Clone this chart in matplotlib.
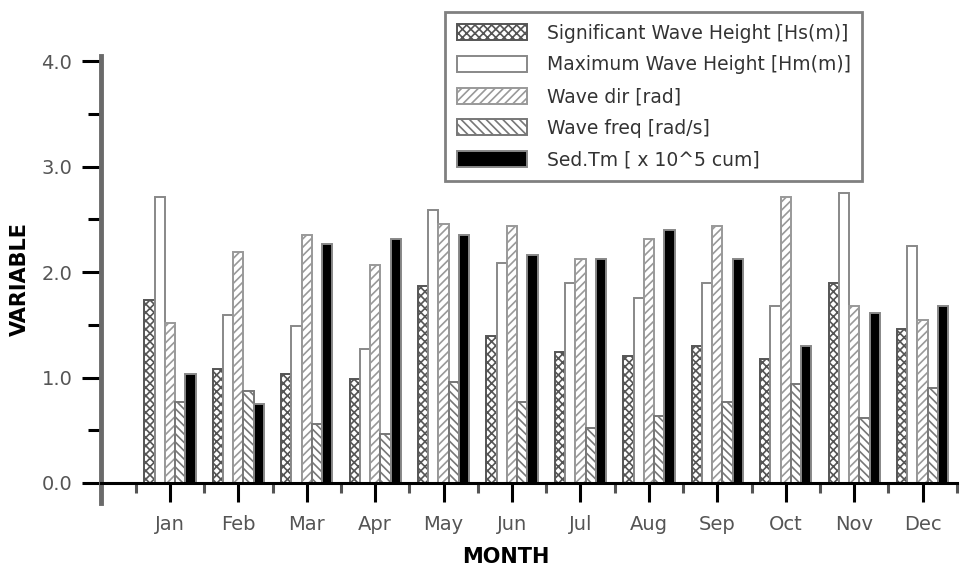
import numpy as np
import matplotlib
matplotlib.use("Agg")
import matplotlib.pyplot as plt
from matplotlib.ticker import MultipleLocator, FixedLocator

# Monthly wave / sediment statistics
months = ["Jan", "Feb", "Mar", "Apr", "May", "Jun",
          "Jul", "Aug", "Sep", "Oct", "Nov", "Dec"]
sig_height = [1.74, 1.08, 1.03, 0.99, 1.87, 1.39, 1.24, 1.20, 1.30, 1.18, 1.90, 1.46]
max_height = [2.71, 1.59, 1.49, 1.27, 2.59, 2.09, 1.90, 1.75, 1.90, 1.68, 2.75, 2.25]
wave_dir = [1.52, 2.19, 2.35, 2.07, 2.46, 2.44, 2.12, 2.31, 2.44, 2.71, 1.68, 1.55]
wave_freq = [0.77, 0.87, 0.56, 0.46, 0.96, 0.77, 0.52, 0.64, 0.77, 0.94, 0.62, 0.90]
sed_trn = [1.03, 0.75, 2.27, 2.31, 2.35, 2.16, 2.12, 2.40, 2.12, 1.30, 1.61, 1.68]

labels = ["Significant Wave Height [Hs(m)]",
          "Maximum Wave Height [Hm(m)]",
          "Wave dir [rad]",
          "Wave freq [rad/s]",
          "Sed.Tm [ x 10^5 cum]"]

plt.rcParams["hatch.linewidth"] = 1.2
plt.rcParams["font.family"] = "DejaVu Sans"

fig = plt.figure(figsize=(9.6, 5.7), dpi=100)
ax = fig.add_axes([0.1057, 0.1175, 0.891, 0.7843])

x = np.arange(1, 13)
w = 0.15
series = [sig_height, max_height, wave_dir, wave_freq, sed_trn]
styles = [
    dict(facecolor="white", edgecolor="#555555", hatch="xxxx"),
    dict(facecolor="white", edgecolor="#888888", hatch=None),
    dict(facecolor="white", edgecolor="#999999", hatch="////"),
    dict(facecolor="white", edgecolor="#777777", hatch="\\\\\\\\"),
    dict(facecolor="black", edgecolor="#888888", hatch=None),
]
for i, (vals, st) in enumerate(zip(series, styles)):
    ax.bar(x + (i - 2) * w, vals, width=w, linewidth=1.4,
           label=labels[i], zorder=1, **st)

ax.set_xlim(0, 12.5)
ax.set_ylim(-0.19, 4.05)

for s in ["top", "right"]:
    ax.spines[s].set_visible(False)
ax.spines["bottom"].set_position(("data", 0))
ax.spines["bottom"].set_color("black")
ax.spines["bottom"].set_linewidth(2.2)
ax.spines["left"].set_color("#6a6a6a")
ax.spines["left"].set_linewidth(3.5)

ax.xaxis.set_major_locator(FixedLocator(np.arange(0, 13)))
ax.set_xticklabels([""] + months)
ax.xaxis.set_minor_locator(MultipleLocator(0.5))
ax.yaxis.set_major_locator(FixedLocator([0, 1, 2, 3, 4]))
ax.set_yticklabels(["0.0", "1.0", "2.0", "3.0", "4.0"])
ax.yaxis.set_minor_locator(MultipleLocator(0.5))

ax.tick_params(axis="both", which="major", direction="out", length=14,
               width=2.2, color="black", labelsize=14, labelcolor="#555555")
ax.tick_params(axis="x", which="minor", direction="out", length=7,
               width=2.2, color="#555555")
ax.tick_params(axis="y", which="minor", direction="out", length=9.5,
               width=2.2, color="black")
ax.tick_params(axis="x", which="major", pad=9)
ax.tick_params(axis="y", which="major", pad=7)

ax.set_ylabel("VARIABLE", fontsize=15, fontweight="bold", labelpad=8)
ax.set_xlabel("MONTH", fontsize=15, fontweight="bold")
ax.xaxis.set_label_coords(0.473, -0.098)

leg = fig.legend(loc="upper left", bbox_to_anchor=(0.4635, 0.979),
                 borderaxespad=0, fontsize=13.5, handlelength=3.75,
                 handleheight=0.95, labelspacing=0.68, handletextpad=1.05,
                 borderpad=0.62, fancybox=False, framealpha=1,
                 edgecolor="#808080")
leg.get_frame().set_linewidth(2)
for t in leg.get_texts():
    t.set_color("#333333")

fig.savefig("out.png", dpi=100)
